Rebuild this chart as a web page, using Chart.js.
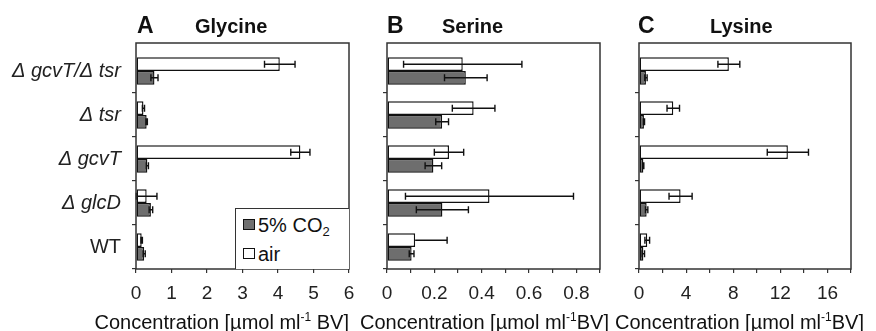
<!DOCTYPE html>
<html>
<head>
<meta charset="utf-8">
<script src="https://cdn.jsdelivr.net/npm/chart.js@4.4.1/dist/chart.umd.min.js"></script>
<style>
  html, body { margin: 0; padding: 0; background: #fff; }
  #wrap { position: relative; width: 876px; height: 331px; overflow: hidden;
    font-family: "Liberation Sans", Arial, sans-serif; color: #111; }
  #wrap canvas { position: absolute; left: 0; top: 0; }
  .lbl { position: absolute; white-space: nowrap; line-height: 1; }
  .letter { font-weight: bold; font-size: 23px; top: 14px; }
  .name { font-weight: bold; font-size: 20px; top: 16px; }
  .axt { font-size: 20px; top: 312px; }
  .axt sup { font-size: 12px; vertical-align: 8px; line-height: 0; }
  #legend { position: absolute; left: 235px; top: 208px; width: 113px; height: 60px;
    border: 1.5px solid #333; border-right: none; border-bottom: none; background: #fff; }
  .sw { position: absolute; left: 7px; width: 10px; height: 9px; border: 1px solid #111; }
  .lt { position: absolute; left: 22px; font-size: 20px; line-height: 1; white-space: nowrap; }
  .lt sub { font-size: 13px; vertical-align: -4px; line-height: 0; }
</style>
</head>
<body>
<div id="wrap">
  <canvas id="chartGly" width="876" height="331"></canvas>
  <canvas id="chartSer" width="876" height="331"></canvas>
  <canvas id="chartLys" width="876" height="331"></canvas>

  <div class="lbl letter" style="left:137px">A</div>
  <div class="lbl name" style="left:195px">Glycine</div>
  <div class="lbl letter" style="left:387px">B</div>
  <div class="lbl name" style="left:442px">Serine</div>
  <div class="lbl letter" style="left:638px">C</div>
  <div class="lbl name" style="left:710px">Lysine</div>

  <div class="lbl axt" style="right:527px">Concentration [µmol ml<sup>-1</sup> BV]</div>
  <div class="lbl axt" style="left:360px">Concentration [µmol ml<sup>-1</sup>BV]</div>
  <div class="lbl axt" style="left:615px">Concentration [µmol ml<sup>-1</sup>BV]</div>

  <div id="legend">
    <div class="sw" style="top:10px;background:#707070"></div>
    <div class="lt" style="top:6px">5% CO<sub>2</sub></div>
    <div class="sw" style="top:39px;background:#fff"></div>
    <div class="lt" style="top:35px">air</div>
  </div>
</div>

<script>
// categorias (de cima para baixo)
const strains = ["Δ gcvT/Δ tsr", "Δ tsr", "Δ gcvT", "Δ glcD", "WT"];

// Glicina
const glyAir = [4.05, 0.21, 4.63, 0.30, 0.16];
const glyAirErr = [0.43, 0.03, 0.27, 0.29, 0.02];
const glyCO2 = [0.52, 0.30, 0.32, 0.42, 0.23];
const glyCO2Err = [0.10, 0.02, 0.03, 0.05, 0.03];

// Serina
const serAir = [0.32, 0.366, 0.262, 0.433, 0.119];
const serAirErr = [0.25, 0.09, 0.062, 0.355, 0.135];
const serCO2 = [0.333, 0.233, 0.196, 0.234, 0.104];
const serCO2Err = [0.09, 0.027, 0.035, 0.11, 0.01];

// Lisina
const lysAir = [7.63, 2.91, 12.64, 3.53, 0.70];
const lysAirErr = [0.93, 0.53, 1.75, 0.98, 0.20];
const lysCO2 = [0.59, 0.42, 0.37, 0.65, 0.37];
const lysCO2Err = [0.10, 0.05, 0.04, 0.10, 0.10];

const FONT = '"Liberation Sans", Arial, sans-serif';
const INK = "#222";

// barras de erro (só o lado de cima quando o de baixo passa de zero)
const errorBars = {
  id: "errorBars",
  afterDatasetsDraw: function (chart) {
    var ctx = chart.ctx;
    var xs = chart.scales.x;
    ctx.save();
    ctx.strokeStyle = "#111";
    ctx.lineWidth = 1.4;
    chart.data.datasets.forEach(function (ds, i) {
      var meta = chart.getDatasetMeta(i);
      meta.data.forEach(function (bar, j) {
        var v = ds.data[j];
        var e = ds.errors[j];
        var y = bar.y;
        var lo = v - e;
        var xHi = xs.getPixelForValue(v + e);
        var xLo = xs.getPixelForValue(lo < 0 ? v : lo);
        ctx.beginPath();
        ctx.moveTo(xLo, y);
        ctx.lineTo(xHi, y);
        ctx.moveTo(xHi, y - 3.5);
        ctx.lineTo(xHi, y + 3.5);
        if (lo >= 0) {
          ctx.moveTo(xLo, y - 3.5);
          ctx.lineTo(xLo, y + 3.5);
        }
        ctx.stroke();
      });
    });
    ctx.restore();
  }
};

// moldura do gráfico
const frame = {
  id: "frame",
  afterDraw: function (chart) {
    var a = chart.chartArea;
    var ctx = chart.ctx;
    ctx.save();
    ctx.strokeStyle = "#333";
    ctx.lineWidth = 1.5;
    ctx.strokeRect(a.left, a.top - 6, a.right - a.left, a.bottom - a.top + 6);
    ctx.restore();
  }
};

function criarPainel(id, air, airErr, co2, co2Err, xMax, step, labelEvery, padL, padR, yWidth, showLabels) {
  var ctx = document.getElementById(id).getContext("2d");
  return new Chart(ctx, {
    type: "bar",
    data: {
      labels: strains,
      datasets: [
        {
          label: "air",
          data: air,
          errors: airErr,
          backgroundColor: "#ffffff",
          borderColor: "#111",
          borderWidth: 1.4,
          borderSkipped: false
        },
        {
          label: "5% CO2",
          data: co2,
          errors: co2Err,
          backgroundColor: "#6e6e6e",
          borderColor: "#111",
          borderWidth: 1.4,
          borderSkipped: false
        }
      ]
    },
    options: {
      indexAxis: "y",
      responsive: false,
      animation: false,
      categoryPercentage: 0.62,
      barPercentage: 1.0,
      layout: { padding: { left: padL, right: padR, top: 49, bottom: 0 } },
      plugins: {
        legend: { display: false },
        tooltip: { enabled: false }
      },
      scales: {
        x: {
          min: 0,
          max: xMax,
          border: { display: false },
          grid: { drawOnChartArea: false, tickLength: 4, color: "#333", lineWidth: 1.2 },
          ticks: {
            stepSize: step,
            autoSkip: false,
            maxRotation: 0,
            padding: 9,
            color: INK,
            font: { family: FONT, size: 19 },
            callback: function (value) {
              var k = Math.round(value / step);
              if (k % labelEvery !== 0) return "";
              var r = Math.round(value * 10) / 10;
              return String(r);
            }
          },
          afterFit: function (scale) { scale.height = 62; }
        },
        y: {
          border: { display: false },
          grid: {
            drawOnChartArea: false,
            tickLength: 4,
            lineWidth: 1.2,
            color: function (c) { return c.index === 0 ? "rgba(0,0,0,0)" : "#333"; }
          },
          ticks: {
            display: showLabels,
            padding: 11,
            color: INK,
            font: function (c) {
              return { family: FONT, size: 20, style: c.index < 4 ? "italic" : "normal" };
            }
          },
          afterFit: function (scale) { scale.width = yWidth; }
        }
      }
    },
    plugins: [errorBars, frame]
  });
}

document.addEventListener("DOMContentLoaded", function () {
  if (typeof Chart === "undefined") {
    console.error("Chart.js não carregou");
    return;
  }
  criarPainel("chartGly", glyAir, glyAirErr, glyCO2, glyCO2Err, 6, 1, 1, 0, 527, 136, true);
  criarPainel("chartSer", serAir, serAirErr, serCO2, serCO2Err, 0.9, 0.1, 2, 367, 276, 20, false);
  criarPainel("chartLys", lysAir, lysAirErr, lysCO2, lysCO2Err, 18, 2, 2, 619, 25, 20, false);
});
</script>
</body>
</html>
